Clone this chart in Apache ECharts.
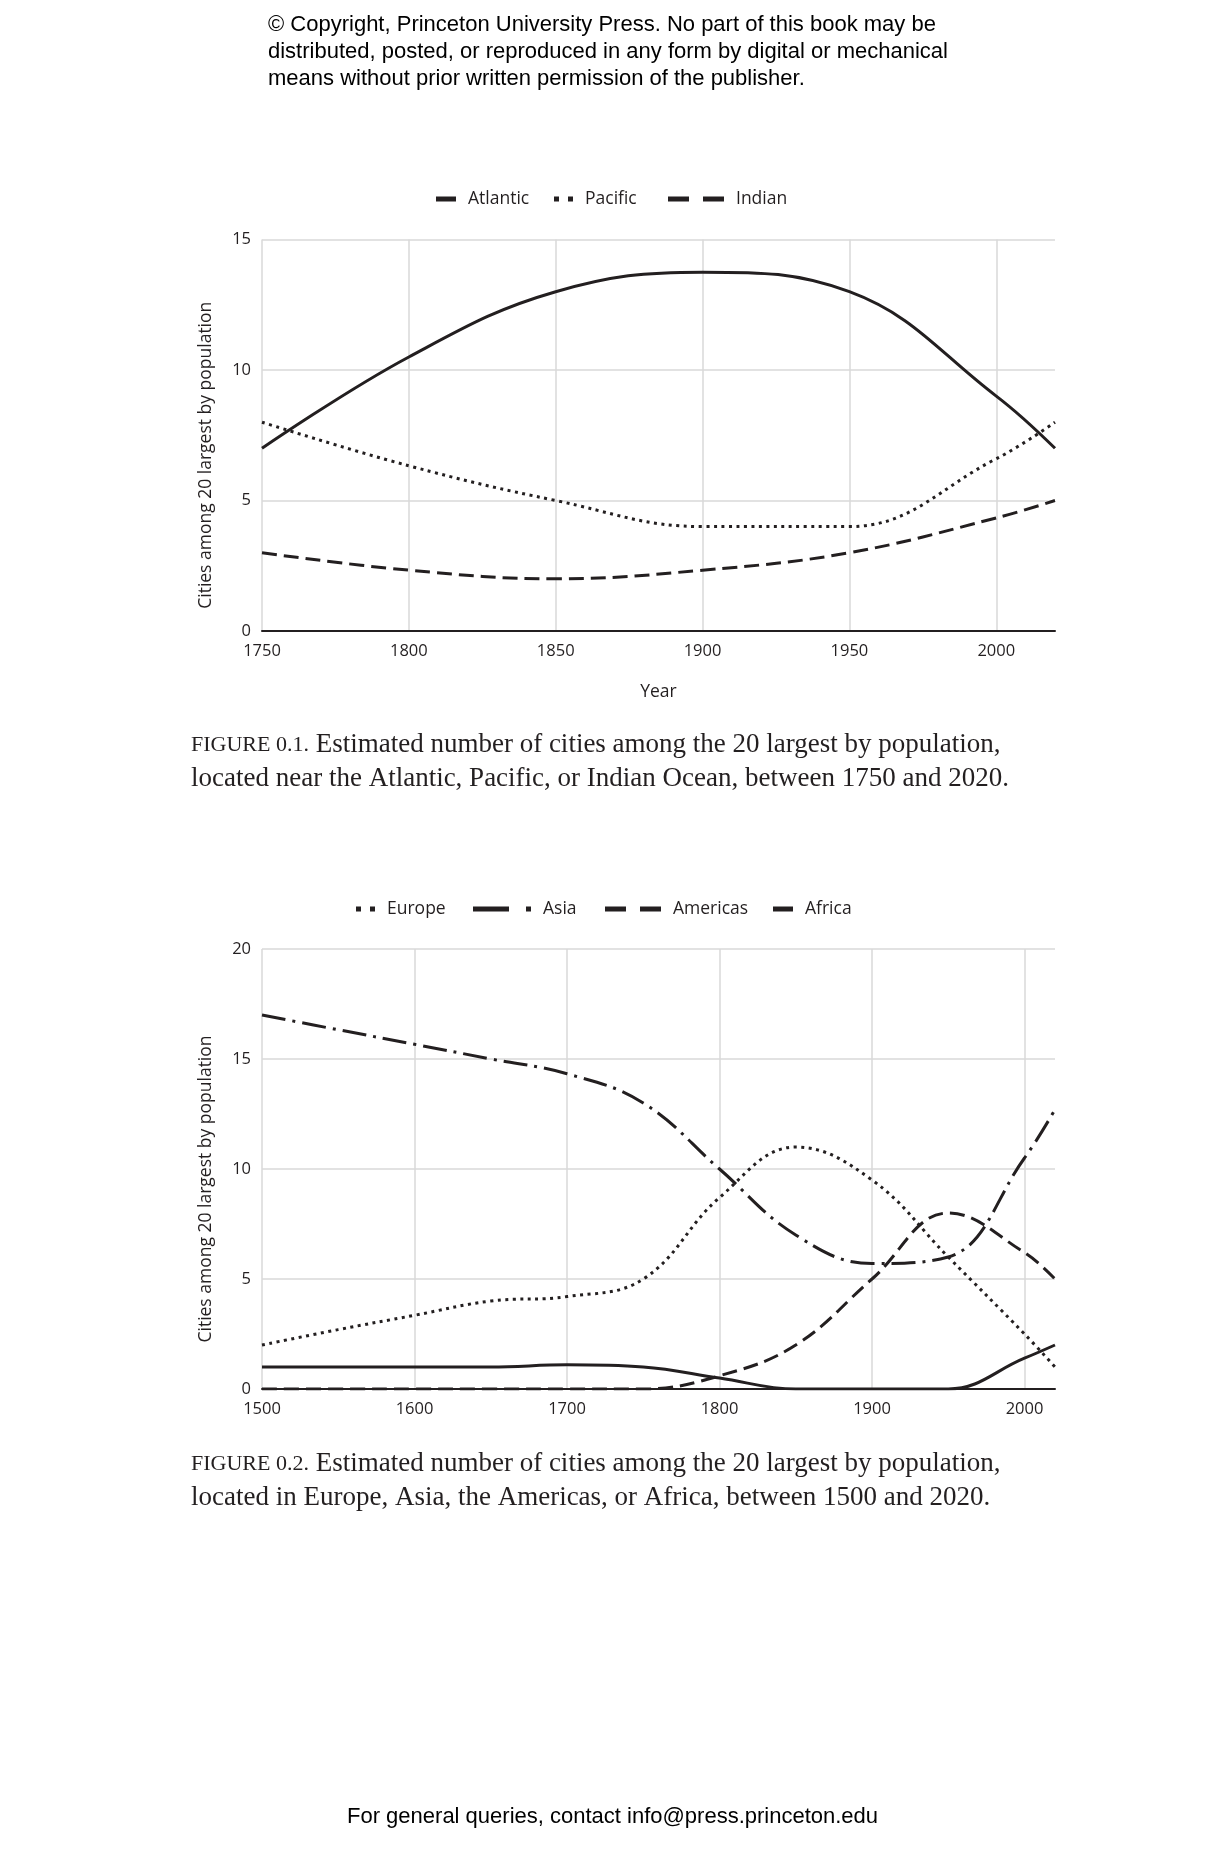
<!DOCTYPE html>
<html>
<head>
<meta charset="utf-8">
<script src="https://cdn.jsdelivr.net/npm/echarts@6/dist/echarts.min.js"></script>
<style>
html,body{margin:0;padding:0;background:#fff;}
#main{width:1225px;height:1850px;}
</style>
</head>
<body>
<div id="main"></div>
<script>
// ---------- DATA ----------
const years1 = [1750, 1800, 1850, 1900, 1950, 2000, 2020];
const atlantic = [7, 10.5, 13, 13.75, 13, 9, 7];
const pacific = [8, 6.33, 5, 4, 4, 6.6, 8];
const indian = [3, 2.33, 2, 2.33, 3, 4.33, 5];

const years2 = [1500, 1550, 1600, 1650, 1700, 1750, 1800, 1850, 1900, 1950, 2000, 2020];
const europe = [2, 2.7, 3.35, 4, 4.2, 5, 8.7, 11, 9.5, 6, 2.5, 1];
const asia = [17, 16.33, 15.67, 15, 14.33, 13, 10, 7, 5.7, 6, 10.5, 12.7];
const americas = [0, 0, 0, 0, 0, 0, 0.6, 2, 5, 8, 6.2, 5];
const africa = [1, 1, 1, 1, 1.1, 1, 0.5, 0, 0, 0, 1.4, 2];

const xAxis1Range = [1750, 2020, 50];
const yAxis1Range = [0, 15, 5];
const xAxis2Range = [1500, 2020, 100];
const yAxis2Range = [0, 20, 5];

const yAxisTitle = 'Cities among 20 largest by population';
const xAxis1Title = 'Year';

const copyrightText = '© Copyright, Princeton University Press. No part of this book may be\ndistributed, posted, or reproduced in any form by digital or mechanical\nmeans without prior written permission of the publisher.';
const caption1 = ['FIGURE 0.1.', 'Estimated number of cities among the 20 largest by population,', 'located near the Atlantic, Pacific, or Indian Ocean, between 1750 and 2020.'];
const caption2 = ['FIGURE 0.2.', 'Estimated number of cities among the 20 largest by population,', 'located in Europe, Asia, the Americas, or Africa, between 1500 and 2020.'];
const footerText = 'For general queries, contact info@press.princeton.edu';

// ---------- STYLE ----------
const INK = '#231f20';
const GRID = '#d9d9d9';
const SANS = '"Open Sans", "Noto Sans", sans-serif';
const SERIF = '"Liberation Serif", "DejaVu Serif", serif';
const ARIAL = '"Liberation Sans", Arial, sans-serif';
const LW = 3;
const STYLES = {
  solid: { type: 'solid', icon: 'path://M0,0h20v5h-20z', w: 20 },
  dotted: { type: [3, 4.5], icon: 'path://M0,0h5v5h-5z M14,0h5v5h-5z', w: 19 },
  dashed: { type: [15, 7], icon: 'path://M0,0h21v5h-21z M35,0h21v5h-21z', w: 56 },
  dashdot: { type: [24, 7, 3, 7], icon: 'path://M0,0h36v5h-36z M53,0h5v5h-5z', w: 58 }
};

function pairs(xs, ys) { return xs.map((x, i) => [x, ys[i]]); }

function makeSeries(name, xs, ys, style, idx) {
  return {
    name: name, type: 'line', xAxisIndex: idx, yAxisIndex: idx,
    data: pairs(xs, ys), smooth: 0.4, symbol: 'none', silent: true,
    color: INK,
    lineStyle: { color: INK, width: LW, type: STYLES[style].type, cap: 'butt' },
    z: 3
  };
}

function makeLegend(name, style, left, centerY) {
  return {
    data: [{ name: name, icon: STYLES[style].icon, itemStyle: { color: INK, borderWidth: 0 } }],
    left: left, top: centerY - 9, padding: 0,
    itemWidth: STYLES[style].w, itemHeight: 5,
    selectedMode: false,
    itemStyle: { borderWidth: 0 },
    textStyle: { fontFamily: SANS, fontSize: 17.5, color: INK, padding: [0, 0, 0, 7] }
  };
}

function splitColors(n) {
  const arr = [];
  for (let i = 0; i < n; i++) arr.push(GRID);
  arr.push('rgba(0,0,0,0)');
  return arr;
}

function xAxisDef(range, gridIndex, name) {
  const nTicks = Math.floor((range[1] - range[0]) / range[2]) + 1;
  return {
    type: 'value', gridIndex: gridIndex, min: range[0], max: range[1], interval: range[2],
    axisLine: { show: true, onZero: false, lineStyle: { color: INK, width: 2 } },
    axisTick: { show: false },
    axisLabel: { showMaxLabel: false, fontFamily: SANS, fontSize: 16.5, color: INK, margin: 12,
      formatter: function (v) { return String(v); } },
    splitLine: { show: true, lineStyle: { color: splitColors(nTicks), width: 1.5 } },
    name: name || '', nameLocation: 'middle', nameGap: 52,
    nameTextStyle: { fontFamily: SANS, fontSize: 17.5, color: INK }
  };
}

function yAxisDef(range, gridIndex) {
  return {
    type: 'value', gridIndex: gridIndex, min: range[0], max: range[1], interval: range[2],
    axisLine: { show: false }, axisTick: { show: false },
    axisLabel: { fontFamily: SANS, fontSize: 16.5, color: INK, margin: 11 },
    splitLine: { show: true, lineStyle: { color: GRID, width: 1.5 } },
    name: yAxisTitle, nameLocation: 'middle', nameGap: 47,
    nameTextStyle: { fontFamily: SANS, fontSize: 17.5, color: INK, padding: [0, 40, 0, 0] }
  };
}

function captionTitle(cap, top) {
  return {
    text: '{sc|' + cap[0] + '} ' + cap[1] + '\n' + cap[2],
    left: 191, top: top, padding: 0,
    textStyle: {
      fontFamily: SERIF, fontSize: 27, fontWeight: 'normal', color: INK, lineHeight: 34,
      rich: { sc: { fontFamily: SERIF, fontSize: 22, color: INK, lineHeight: 34 } }
    }
  };
}

const chart = echarts.init(document.getElementById('main'), null, { renderer: 'canvas' });

const option = {
  backgroundColor: '#ffffff',
  animation: false,
  title: [
    {
      text: copyrightText, left: 268, top: 11, padding: 0,
      textStyle: { fontFamily: ARIAL, fontSize: 22, fontWeight: 'normal', color: '#000', lineHeight: 27 }
    },
    captionTitle(caption1, 728),
    captionTitle(caption2, 1447),
    {
      text: footerText, left: 347, top: 1805, padding: 0,
      textStyle: { fontFamily: ARIAL, fontSize: 22, fontWeight: 'normal', color: '#000', lineHeight: 24 }
    }
  ],
  legend: [
    makeLegend('Atlantic', 'solid', 436, 199),
    makeLegend('Pacific', 'dotted', 554, 199),
    makeLegend('Indian', 'dashed', 668, 199),
    makeLegend('Europe', 'dotted', 356, 909),
    makeLegend('Asia', 'dashdot', 473, 909),
    makeLegend('Americas', 'dashed', 605, 909),
    makeLegend('Africa', 'solid', 773, 909)
  ],
  grid: [
    { left: 262, right: 170, top: 239.5, height: 391.5, containLabel: false },
    { left: 262, right: 170, top: 949, height: 440, containLabel: false }
  ],
  xAxis: [xAxisDef(xAxis1Range, 0, xAxis1Title), xAxisDef(xAxis2Range, 1, '')],
  yAxis: [yAxisDef(yAxis1Range, 0), yAxisDef(yAxis2Range, 1)],
  series: [
    makeSeries('Atlantic', years1, atlantic, 'solid', 0),
    makeSeries('Pacific', years1, pacific, 'dotted', 0),
    makeSeries('Indian', years1, indian, 'dashed', 0),
    makeSeries('Europe', years2, europe, 'dotted', 1),
    makeSeries('Asia', years2, asia, 'dashdot', 1),
    makeSeries('Americas', years2, americas, 'dashed', 1),
    makeSeries('Africa', years2, africa, 'solid', 1)
  ]
};
chart.setOption(option);
</script>
</body>
</html>
